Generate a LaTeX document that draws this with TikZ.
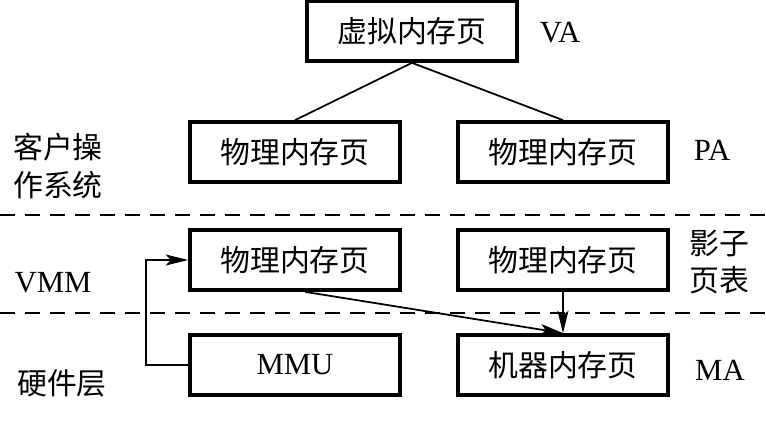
\documentclass[tikz,border=0pt]{standalone}
\usepackage{fontspec}
\setmainfont{Liberation Serif}
\newfontfamily\cjk{Noto Sans CJK SC}
\usetikzlibrary{arrows.meta}

\begin{document}
\begin{tikzpicture}[x=0.02cm, y=-0.02cm,
    page/.style={draw, line width=2.1pt, minimum width=4.2cm, minimum height=1.2cm,
        inner sep=0pt, font=\cjk\fontsize{17}{20}\selectfont},
    lbl/.style={font=\fontsize{17.5}{20}\selectfont},
    zh/.style={font=\cjk\fontsize{17}{21.5}\selectfont, align=left},
    link/.style={line width=1pt},
    ptr/.style={line width=1pt, -{Stealth[length=0.45cm, width=0.22cm, inset=0.1cm]}},
    layer/.style={line width=1.2pt, dash pattern=on 0.3cm off 0.2cm}]

    % Fix the page to the size of the reference
    \useasboundingbox (0,0) rectangle (766,422);

    % Guest operating system: virtual page and its two physical pages
    \node[page] (va) at (412,31) {虚拟内存页};
    \node[page] (paL) at (295,152) {物理内存页};
    \node[page] (paR) at (563,152) {物理内存页};

    % VMM layer: guest physical page and shadow page table
    \node[page] (vmmL) at (295,260) {物理内存页};
    \node[page] (vmmR) at (563,260) {物理内存页};

    % Hardware layer
    \node[page, lbl] (mmu) at (295,365) {MMU};
    \node[page] (ma) at (563,365) {机器内存页};

    % Labels on the right side
    \node[lbl] (vaText) at (560,33) {VA};
    \node[lbl] (paText) at (712,150) {PA};
    \node[zh] (shadow) at (719,262) {影子\\页表};
    \node[lbl] (maText) at (720,370) {MA};

    % Labels of the layers on the left side
    \node[zh] (guest) at (58,166) {客户操\\作系统};
    \node[lbl] (vmm) at (53,283) {VMM};
    \node[zh] (hw) at (62,383) {硬件层};

    % Dashed borders between the layers
    \draw[layer] (0,215) -- (766,215);
    \draw[layer] (0,313) -- (766,313);

    % Virtual page maps to the physical pages
    \draw[link] (va.south) -- (paL.north);
    \draw[link] (va.south) -- (paR.north);

    % Mappings down to the machine page
    \draw[ptr] ([xshift=0.2cm]vmmL.south) -- (ma.north);
    \draw[ptr] (vmmR.south) -- (ma.north);

    % MMU loops back to the physical page
    \draw[ptr] (mmu.west) -- ++(-42,0) |- (vmmL.west);

\end{tikzpicture}
\end{document}
